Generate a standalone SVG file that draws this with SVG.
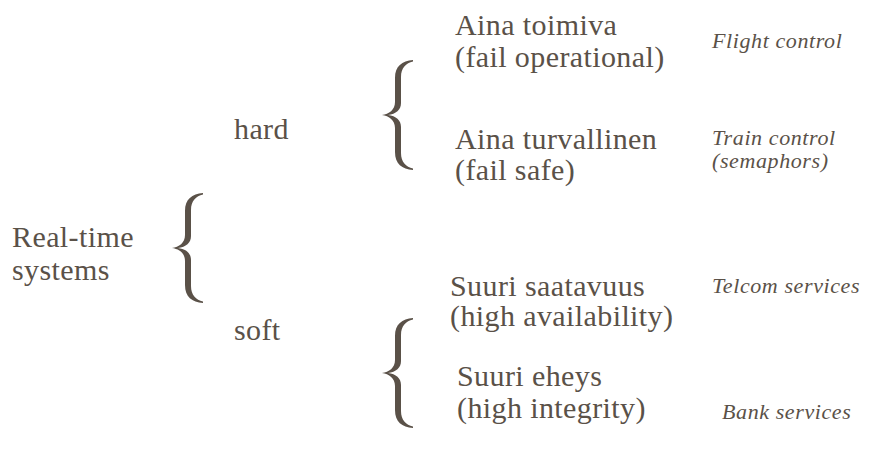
<svg xmlns="http://www.w3.org/2000/svg" width="869" height="457" viewBox="0 0 869 457">
  <style>
    .t { font-family: 'Liberation Serif', 'DejaVu Serif', serif; font-size: 30px; fill: #5a5148; letter-spacing: 0.4px; }
    .i { font-family: 'Liberation Serif', 'DejaVu Serif', serif; font-size: 22px; font-style: italic; fill: #5a5148; letter-spacing: 0.6px; }
    .brace { fill: #5a5148; }
  </style>
  <defs>
    <path id="br" d="M31 0 C20 1 13 6 13 18 L13 42 C13 50 7 54 0 55 C7 56 13 60 13 68 L13 92 C13 104 20 109 31 110 L31 108.5 C24 107 19 102 19 93 L19 67 C19 60 14 56 6 55 C14 54 19 50 19 43 L19 17 C19 8 24 3 31 1.5 Z"/>
  </defs>
  <rect width="869" height="457" fill="#ffffff"/>
  <g id="connectors">
    <use href="#br" class="brace" x="172" y="193"/>
    <use href="#br" class="brace" x="382" y="60"/>
    <use href="#br" class="brace" x="382" y="318"/>
  </g>
  <g id="realtime">
    <text class="t" x="12" y="247">Real-time</text>
    <text class="t" x="12" y="280">systems</text>
  </g>
  <g id="hard"><text class="t" x="234" y="139">hard</text></g>
  <g id="soft"><text class="t" x="234" y="340">soft</text></g>
  <g id="fail-operational">
    <text class="t" x="455" y="35">Aina toimiva</text>
    <text class="t" x="455" y="67">(fail operational)</text>
  </g>
  <g id="fail-safe">
    <text class="t" x="455" y="149">Aina turvallinen</text>
    <text class="t" x="455" y="180">(fail safe)</text>
  </g>
  <g id="high-availability">
    <text class="t" x="450" y="296">Suuri saatavuus</text>
    <text class="t" x="450" y="326">(high availability)</text>
  </g>
  <g id="high-integrity">
    <text class="t" x="457" y="386">Suuri eheys</text>
    <text class="t" x="457" y="418">(high integrity)</text>
  </g>
  <g id="flight"><text class="i" x="712" y="48">Flight control</text></g>
  <g id="train">
    <text class="i" x="712" y="145">Train control</text>
    <text class="i" x="712" y="168">(semaphors)</text>
  </g>
  <g id="telcom"><text class="i" x="712" y="293">Telcom services</text></g>
  <g id="bank"><text class="i" x="722" y="419">Bank services</text></g>
</svg>
